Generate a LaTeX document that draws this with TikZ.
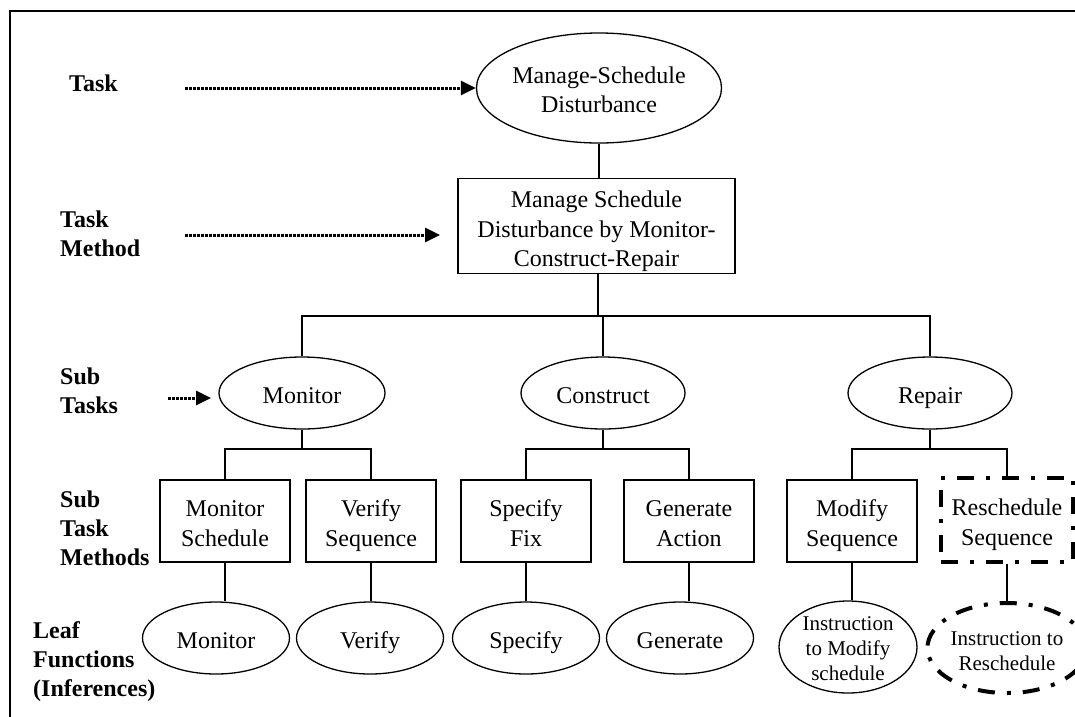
\documentclass[tikz,border=0pt]{standalone}
\usepackage{fontspec}
\setmainfont{Liberation Serif}
\usetikzlibrary{shapes.geometric,arrows.meta}

% struts that set the first and last line of a node so the text sits centred
\newcommand\topstrut{\rule[-0.28em]{0pt}{1.45em}}
\newcommand\bottomstrut{\rule[-0.28em]{0pt}{1.2em}}

\begin{document}
\begin{tikzpicture}[x=1pt,y=-1pt,
  every node/.style={font=\fontsize{24}{29.5}\selectfont},
  oval/.style={draw, ellipse, line width=1.3pt, inner sep=0pt, align=center,
               execute at begin node=\topstrut, execute at end node=\bottomstrut},
  box/.style={draw, rectangle, line width=1.3pt, inner sep=0pt, align=center,
              execute at begin node=\topstrut, execute at end node=\bottomstrut},
  % multi-line text: room reserved above the last baseline
  multi/.style={execute at begin node={\rule{0pt}{#1}}},
  heavy/.style={line width=4pt, dash pattern=on 17pt off 12pt on 4pt off 12pt},
  link/.style={line width=1.3pt},
  pointer/.style={line width=3pt, dash pattern=on 3pt off 1pt,
                  -{Triangle[length=15pt,width=14pt]}},
  tag/.style={font=\fontsize{24}{29}\selectfont\bfseries, align=left,
              anchor=west, inner sep=0pt},
  small/.style={font=\fontsize{21}{25}\selectfont}
]
\useasboundingbox (0,0) rectangle (1075,716);

% outer frame (runs past the right and bottom edges)
\draw[line width=2pt] (1080,11) -- (10,11) -- (10,721);

% level labels
\node[tag] (lblTask)   at (69,83)  {Task};
\node[tag] (lblMethod) at (60,234) {Task\\Method};
\node[tag] (lblSub)    at (60,391) {Sub\\Tasks};
\node[tag] (lblSubM)   at (60,528) {Sub\\Task\\Methods};
\node[tag] (lblLeaf)   at (33,662) {Leaf\\Functions\\(Inferences)};

% task and task method
\node[oval, multi=56pt, minimum width=208pt, minimum height=110pt] (task) at (599,88)
  {Manage-Schedule\\Disturbance};
\node[box, multi=88pt, minimum width=277pt, minimum height=94pt] (tmethod) at (596.5,226)
  {Manage Schedule\\Disturbance by Monitor-\\Construct-Repair};

% sub tasks
\node[oval, minimum width=166pt, minimum height=72pt] (stMon) at (302,393) {Monitor};
\node[oval, minimum width=164pt, minimum height=72pt] (stCon) at (603,393) {Construct};
\node[oval, minimum width=164pt, minimum height=72pt] (stRep) at (930,393) {Repair};

% sub task methods
\node[box, multi=57pt, minimum width=130pt, minimum height=82pt] (mSched) at (225,521) {Monitor\\Schedule};
\node[box, multi=57pt, minimum width=130pt, minimum height=82pt] (vSeq)   at (371,521) {Verify\\Sequence};
\node[box, multi=57pt, minimum width=130pt, minimum height=82pt] (sFix)   at (526,521) {Specify\\Fix};
\node[box, multi=57pt, minimum width=130pt, minimum height=82pt] (gAct)   at (689,521) {Generate\\Action};
\node[box, multi=57pt, minimum width=130pt, minimum height=82pt] (mSeq)   at (852,521) {Modify\\Sequence};
\node[box, multi=57pt, heavy, minimum width=132pt, minimum height=84pt] (rSeq) at (1007,520) {Reschedule\\Sequence};

% leaf functions
\node[oval, minimum width=147pt, minimum height=72pt] (lMon)  at (216,638) {Monitor};
\node[oval, minimum width=147pt, minimum height=72pt] (lVer)  at (370,638) {Verify};
\node[oval, minimum width=147pt, minimum height=72pt] (lSpec) at (526,638) {Specify};
\node[oval, minimum width=147pt, minimum height=72pt] (lGen)  at (680,638) {Generate};
\node[oval, small, multi=73pt, inner ysep=-8pt, minimum width=138pt, minimum height=92pt] (lMod) at (848,647)
  {Instruction\\to Modify\\schedule};
\node[oval, small, multi=50pt, heavy, minimum width=150pt, minimum height=90pt] (lRes) at (1007,648)
  {Instruction to\\Reschedule};

% level pointers
\coordinate (a1s) at (185,88);
\coordinate (a2s) at (185,235);
\coordinate (a2e) at (440,235);
\coordinate (a3s) at (168,398);
\coordinate (a3e) at (211,398);
\draw[pointer] (a1s) -- (task.west);
\draw[pointer] (a2s) -- (a2e);
\draw[pointer] (a3s) -- (a3e);

% tree connectors
\draw[link] (task.south) -- (task.south |- tmethod.north);
\coordinate (bus1) at (598,316);
\draw[link] (tmethod.south -| bus1) -- (bus1);
\draw[link] (stMon.north) |- (bus1) -| (stRep.north);
\draw[link] (bus1) -| (stCon.north);

\coordinate (bMon) at (302,449);
\coordinate (bCon) at (603,449);
\coordinate (bRep) at (930,449);
\draw[link] (stMon.south) -- (bMon);
\draw[link] (mSched.north) |- (bMon) -| (vSeq.north);
\draw[link] (stCon.south) -- (bCon);
\draw[link] (sFix.north) |- (bCon) -| (gAct.north);
\draw[link] (stRep.south) -- (bRep);
\draw[link] (mSeq.north) |- (bRep) -| (rSeq.north);

\draw[link] (mSched.south) -- (mSched.south |- lMon.north);
\draw[link] (vSeq.south)   -- (vSeq.south |- lVer.north);
\draw[link] (sFix.south)   -- (sFix.south |- lSpec.north);
\draw[link] (gAct.south)   -- (gAct.south |- lGen.north);
\draw[link] (mSeq.south)   -- (mSeq.south |- lMod.north);
\draw[link] (rSeq.south)   -- (rSeq.south |- lRes.north);
\end{tikzpicture}
\end{document}
